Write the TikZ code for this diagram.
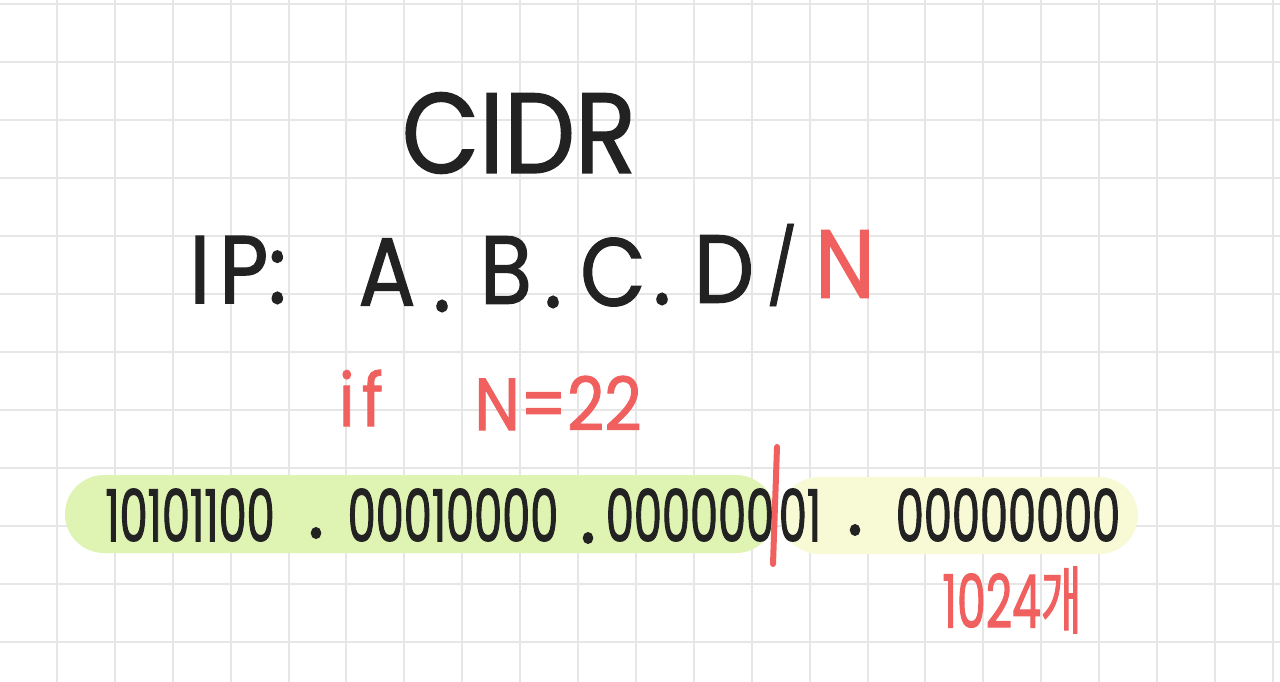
\documentclass[tikz,border=0pt]{standalone}
\usepackage{fontspec}
\setmainfont{Poppins}
\newfontfamily\handfont[FakeBold=1.2, FakeStretch=0.88]{Poppins}
\newfontfamily\digitfont[FakeBold=1.3, FakeStretch=0.62]{Poppins}
\newfontfamily\krfont[FakeBold=1.2, FakeStretch=0.6]{Noto Sans CJK KR}
\definecolor{inkblack}{HTML}{222222}
\definecolor{inkred}{HTML}{F0605F}
\definecolor{markgreen}{HTML}{DFF3B3}
\definecolor{markyellow}{HTML}{F8FAD6}
\definecolor{gridgray}{HTML}{E6E6E6}

\begin{document}
\begin{tikzpicture}[
  x=0.02cm, y=-0.02cm,
  gridline/.style={draw=gridgray, line width=0.04cm},
  ink/.style={inner sep=0pt, text=inkblack},
  title/.style={ink, font=\handfont\fontsize{65}{65}\selectfont},
  big/.style={ink, font=\handfont\fontsize{55}{55}\selectfont},
  bits/.style={ink, font=\digitfont\fontsize{41}{41}\selectfont},
  bitdot/.style={ink, font=\handfont\fontsize{50}{50}\selectfont},
  note/.style={inner sep=0pt, text=inkred, font=\handfont\fontsize{42}{42}\selectfont},
  marker/.style={rounded corners=0.78cm}
]
  \useasboundingbox[fill=white] (0,0) rectangle (1280,682);

  % grid paper
  \foreach \i in {1,...,22}
    \draw[gridline] ({-1+57.9*\i},0) -- ++(0,682);
  \foreach \j in {0,...,11}
    \draw[gridline] (0,{4.3+58*\j}) -- ++(1280,0);

  % highlighter
  \fill[markyellow, marker] (780,477) rectangle (1138,554);
  \fill[markgreen, marker] (65,475) rectangle (775,553);

  % heading
  \node[title] (cidr) at (519,133) {CIDR};

  % address form
  \node[big] (ip) at (238,270) {I\kern5pt P\kern0pt:};
  \node[big] (lta) at (387,272) {A};
  \node[big] (dta) at (442,306) {.};
  \node[big] (ltb) at (506,270) {B};
  \node[big] (dtb) at (553,302) {.};
  \node[big] (ltc) at (613,272) {C};
  \node[big] (dtc) at (662,299) {.};
  \node[big] (ltd) at (724,269) {D};
  \node[big, font=\handfont\fontsize{42}{42}\selectfont] (slash) at (782,265) {/};
  \node[big, text=inkred] (ltn) at (845,264) {N};

  % condition
  \node[note] (cond) at (361,398) {i\kern4pt f};
  \node[note] (neq) at (558,403) {N=22};

  % binary address
  \node[bits] (octa) at (190,515) {10101100};
  \node[bitdot] (dota) at (316,533) {.};
  \node[bits] (octb) at (453,515) {00010000};
  \node[bitdot] (dotb) at (588,538) {.};
  \node[bits] (octc) at (690,515) {000000};
  \node[bits] (octd) at (800,515) {01};
  \node[bitdot] (dotc) at (855,530) {.};
  \node[bits] (octe) at (1008,515) {00000000};

  % prefix cut
  \coordinate (cuttop) at (777,447);
  \coordinate (cutbot) at (773,564);
  \draw[inkred, line width=0.12cm, line cap=round] (cuttop) -- (cutbot);

  \node[note] (count) at (1012,600) {\digitfont 1024\krfont 개};
\end{tikzpicture}
\end{document}
